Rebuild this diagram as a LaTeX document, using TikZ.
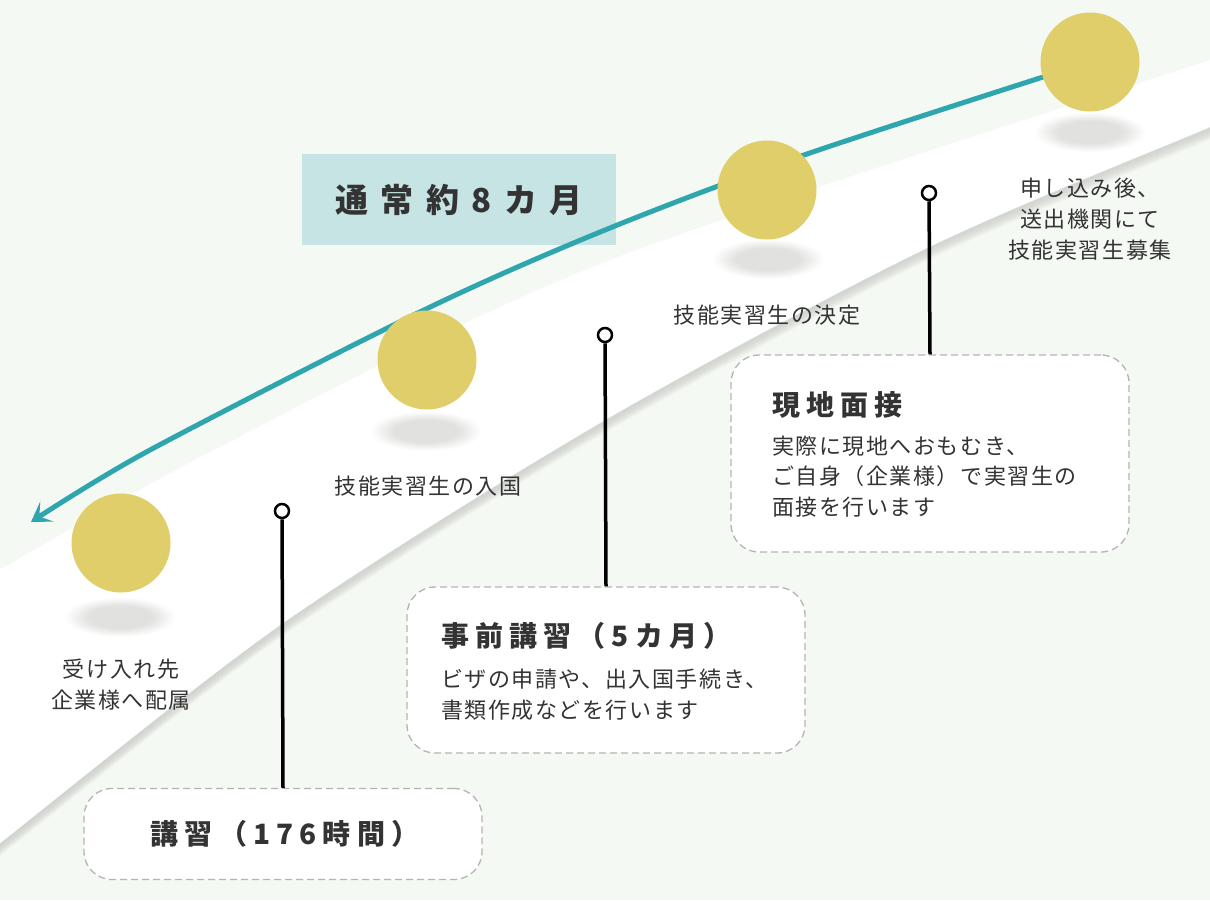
\documentclass[tikz,border=0pt]{standalone}
\usepackage{fontspec}
\setmainfont{Noto Sans CJK JP}
\usetikzlibrary{arrows.meta,calc,positioning}

\definecolor{bgcol}{HTML}{F5F9F4}
\definecolor{teal}{HTML}{2FA6AD}
\definecolor{gold}{HTML}{E0CE6B}
\definecolor{badgecol}{HTML}{C5E4E3}
\definecolor{shadowgray}{HTML}{E1E2DF}
\definecolor{edgegray}{HTML}{CFD1CC}
\definecolor{ink}{HTML}{333333}
\definecolor{dashgray}{HTML}{B4B4B4}

\pgfdeclareradialshading{blob}{\pgfpoint{0bp}{0bp}}{color(0bp)=(shadowgray); color(14bp)=(shadowgray); color(25bp)=(white); color(50bp)=(white)}

\begin{document}
\begin{tikzpicture}[x=1pt, y=-1pt,
		ball/.style={circle, fill=gold, minimum size=99pt, inner sep=0pt},
		pin/.style={circle, draw=black, line width=2.5pt, fill=white, minimum size=14pt, inner sep=0pt},
		stem/.style={draw=black, line width=3.5pt},
		card/.style={draw=dashgray, dash pattern=on 7pt off 4pt, line width=1.3pt, fill=white, rounded corners=28pt, inner sep=0pt},
		lbl/.style={text=ink, align=center, inner sep=0pt, font=\fontsize{22}{31}\selectfont\addfontfeature{LetterSpace=7}},
		body/.style={text=ink, align=left, inner sep=0pt, font=\fontsize{22}{30.5}\selectfont\addfontfeature{LetterSpace=7}},
		title/.style={text=ink, inner sep=0pt, font=\fontsize{28}{34}\selectfont\bfseries\addfontfeature{LetterSpace=22}},
		badge/.style={fill=badgecol, text=ink, minimum width=314pt, minimum height=91pt, inner sep=0pt, font=\fontsize{33}{40}\selectfont\bfseries\addfontfeature{LetterSpace=38}}
	]
	\useasboundingbox (0,0) rectangle (1210,900);
	\fill[bgcol] (0,0) rectangle (1210,900);

	% white band with soft edge
	\begin{scope}
		\clip (0,0) rectangle (1210,900);
		\foreach \s in {1,...,12}{
			\pgfmathsetmacro{\o}{0.7*(1-\s/13)}
			\draw[edgegray, line width=2pt, opacity=\o, yshift=-\s pt] plot[smooth] coordinates {(1260,106) (1210,127) (929,247) (605,420) (283,623) (0,843) (-40,874)};
		}
		\fill[white] plot[smooth] coordinates {(-40,593) (214,450) (605,262) (1210,60) (1260,45)}
			-- plot[smooth] coordinates {(1260,106) (1210,127) (929,247) (605,420) (283,623) (0,843) (-40,874)} -- cycle;
	\end{scope}

	\node[badge] (span) at (459,199.5) {通常約8カ月};

	% time line
	\draw[teal, line width=5pt, -{Stealth[length=19pt, width=24pt, inset=9pt]}]
		plot[smooth] coordinates {(1090,62) (804,155) (605,230) (424,310) (150,450) (31,522)};

	% shadows
	\foreach \x/\y in {1090/132, 768/259, 426/431, 120/617}
		\shade[shading=blob] (\x,\y) ellipse (56 and 20);

	\node[ball] (s1) at (1090,62) {};
	\node[ball] (s2) at (767,190) {};
	\node[ball] (s3) at (427,360) {};
	\node[ball] (s4) at (121,543) {};

	\node[lbl] (l1) at (1090,219) {申し込み後、\\送出機関にて\\技能実習生募集};
	\node[lbl] (l2) at (767,315) {技能実習生の決定};
	\node[lbl] (l3) at (428,486) {技能実習生の入国};
	\node[lbl] (l4) at (121,685) {受け入れ先\\企業様へ配属};

	% cards
	\node[card, minimum width=398pt, minimum height=197pt] (cardA) at (930,453.5) {};
	\node[card, minimum width=398pt, minimum height=166pt] (cardB) at (606,670) {};
	\node[card, minimum width=398pt, minimum height=91pt] (cardC) at (283,834) {};

	\node[pin] (pinA) at (929,193) {};
	\node[pin] (pinB) at (605,335) {};
	\node[pin] (pinC) at (282,511) {};
	\draw[stem] (pinA) -- (cardA.north);
	\draw[stem] (pinB) -- (cardB.north);
	\draw[stem] (pinC) -- (cardC.north);

	\node[title, anchor=west] (titA) at (772,405) {現地面接};
	\node[body, anchor=west] (txtA) at (772,476.5) {実際に現地へおもむき、\\ご自身（企業様）で実習生の\\面接を行います};
	\node[title, anchor=west] (titB) at (441,636) {事前講習（5カ月）};
	\node[body, anchor=west] (txtB) at (441,694.5) {ビザの申請や、出入国手続き、\\書類作成などを行います};
	\node[title] (titC) at (285,834) {講習（176時間）};
\end{tikzpicture}
\end{document}
